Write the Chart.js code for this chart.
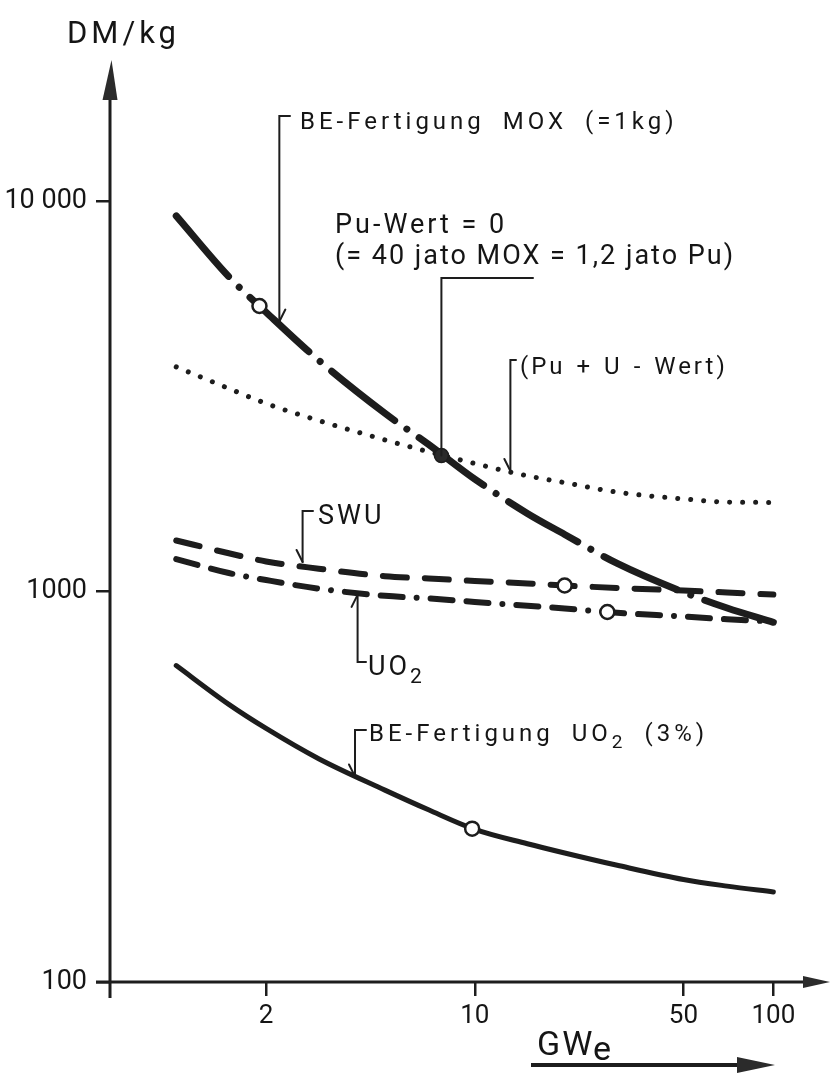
<!DOCTYPE html>
<html>
<head>
<meta charset="utf-8">
<script src="https://cdn.jsdelivr.net/npm/chart.js@4.4.1/dist/chart.umd.min.js"></script>
<style>
  html, body { margin: 0; padding: 0; background: #fff; }
  #wrap { width: 831px; height: 1080px; position: relative; }
</style>
</head>
<body>
<div id="wrap"><canvas id="c"></canvas></div>
<script>
// Installed capacity (GWe) at which every curve is sampled
const gwe = [1, 1.5, 2, 3, 5, 7, 10, 15, 20, 30, 50, 70, 100];
// Cost curves, DM/kg
const moxFabrication = [9160, 6400, 5190, 3910, 2860, 2380, 1940, 1585, 1400, 1180, 996, 907, 834];
const puUValue       = [3760, 3310, 3030, 2740, 2445, 2280, 2127, 1978, 1900, 1796, 1726, 1694, 1691];
const swuCost        = [1351, 1253, 1194, 1144, 1094, 1080, 1064, 1049, 1036, 1021, 1006, 994, 982];
const uo2Cost        = [1211, 1115, 1070, 1017, 975, 960, 940, 919, 905, 882, 863, 849, 838];
const uo2Fabrication = [646, 514, 446, 373, 310, 276, 246, 226, 214, 199, 183, 176, 170];

// Reference points marked on the curves
const openMarkX = [1.9, 20, 27.8, 9.8];
const openMarkY = [5385, 1036, 886, 247];
// Break-even point: Pu value = 0
const breakEvenX = [7.73];
const breakEvenY = [2230];

// Axis ticks
const xTicks = [2, 10, 50, 100];
const xTickLabels = ['2', '10', '50', '100'];
const yTicks = [100, 1000, 10000];
const yTickLabels = ['100', '1000', '10 000'];

const INK = '#1d1d1d';
const FONT = 'Roboto, "DejaVu Sans", sans-serif';

const pts = (xs, ys) => xs.map((x, i) => ({ x, y: ys[i] }));

function lineSet(values, width, dash) {
  return {
    type: 'line',
    data: pts(gwe, values),
    borderColor: INK,
    borderWidth: width,
    borderDash: dash,
    borderCapStyle: 'round',
    borderJoinStyle: 'round',
    cubicInterpolationMode: 'monotone',
    pointRadius: 0,
    fill: false,
    order: 1
  };
}

// Draws a run of text, where parts may be plain strings or {sub: '2'}
function richText(ctx, parts, x, y, size, spacing, wordSpacing) {
  let cx = x;
  for (const p of parts) {
    const isSub = typeof p === 'object';
    const s = isSub ? p.sub : p;
    const fs = isSub ? Math.round(size * 0.78) : size;
    ctx.font = `${fs}px ${FONT}`;
    ctx.letterSpacing = spacing + 'px';
    ctx.wordSpacing = (wordSpacing || 0) + 'px';
    ctx.fillText(s, cx, isSub ? y + size * 0.3 : y);
    cx += ctx.measureText(s).width;
  }
}

// Axis lines with arrowheads and the axis titles
const axesPlugin = {
  id: 'axes',
  beforeDatasetsDraw(chart) {
    const { ctx, chartArea: a } = chart;
    ctx.save();
    ctx.strokeStyle = INK;
    ctx.fillStyle = '#2b2b2b';
    ctx.lineWidth = 3;
    ctx.lineCap = 'butt';
    // y axis
    ctx.beginPath();
    ctx.moveTo(a.left, a.bottom + 16);
    ctx.lineTo(a.left, a.top);
    ctx.stroke();
    ctx.beginPath();
    ctx.moveTo(a.left - 7.5, a.top);
    ctx.lineTo(a.left + 1.5, a.top - 40);
    ctx.lineTo(a.left + 7.5, a.top);
    ctx.closePath();
    ctx.fill();
    // x axis
    ctx.beginPath();
    ctx.moveTo(a.left - 14, a.bottom);
    ctx.lineTo(a.right + 2, a.bottom);
    ctx.stroke();
    ctx.beginPath();
    ctx.moveTo(a.right, a.bottom - 6);
    ctx.lineTo(a.right + 27, a.bottom);
    ctx.lineTo(a.right, a.bottom + 6);
    ctx.closePath();
    ctx.fill();

    // titles
    ctx.fillStyle = '#151515';
    ctx.textBaseline = 'alphabetic';
    ctx.textAlign = 'left';
    richText(ctx, ['DM/kg'], 67, 43, 31, 4);
    richText(ctx, ['GW'], 537, 1055, 34, 2);
    richText(ctx, ['e'], 593, 1060, 34, 0);
    // GWe direction arrow
    ctx.fillStyle = '#2b2b2b';
    ctx.lineWidth = 4;
    ctx.beginPath();
    ctx.moveTo(531, 1065);
    ctx.lineTo(740, 1065);
    ctx.stroke();
    ctx.beginPath();
    ctx.moveTo(737, 1057);
    ctx.lineTo(775, 1065);
    ctx.lineTo(737, 1073);
    ctx.closePath();
    ctx.fill();
    ctx.restore();
  }
};

// Labelled leader lines pointing onto the curves
const callouts = [
  { at: [2.215, 4913], elbowY: 116, endX: 290, barb: 1,
    text: ['BE-Fertigung MOX (=1kg)'], tx: 300, ty: 129, size: 24, sp: 4, ws: 8 },
  { at: [13.16, 2035], elbowY: 360, endX: 516, barb: -1,
    text: ['(Pu + U - Wert)'], tx: 520, ty: 374, size: 24, sp: 3, ws: 2 },
  { at: [2.65, 1190], elbowY: 511, endX: 313, barb: -1,
    text: ['SWU'], tx: 318, ty: 524, size: 27, sp: 3, ws: 0 },
  { at: [4.05, 980], elbowY: 662, endX: 366, barb: -1,
    text: ['UO', { sub: '2' }], tx: 368, ty: 675, size: 27, sp: 3, ws: 0 },
  { at: [3.97, 336], elbowY: 730, endX: 366, barb: -1,
    text: ['BE-Fertigung UO', { sub: '2' }, ' (3%)'], tx: 369, ty: 741, size: 24, sp: 4, ws: 8 }
];

const calloutPlugin = {
  id: 'callouts',
  afterDatasetsDraw(chart) {
    const { ctx, scales: { x, y } } = chart;
    ctx.save();
    ctx.strokeStyle = INK;
    ctx.fillStyle = '#151515';
    ctx.lineWidth = 2;
    ctx.lineCap = 'round';
    ctx.textBaseline = 'alphabetic';
    for (const c of callouts) {
      const px = x.getPixelForValue(c.at[0]);
      const py = y.getPixelForValue(c.at[1]);
      ctx.beginPath();
      ctx.moveTo(px, py);
      ctx.lineTo(px, c.elbowY);
      ctx.lineTo(c.endX, c.elbowY);
      ctx.stroke();
      const dir = c.elbowY < py ? -1 : 1;
      ctx.beginPath();
      ctx.moveTo(px, py);
      ctx.lineTo(px + c.barb * 6, py + dir * 12);
      ctx.stroke();
      richText(ctx, c.text, c.tx, c.ty, c.size, c.sp, c.ws);
    }
    // Pu value = 0 note, tied to the break-even point
    const bx = x.getPixelForValue(breakEvenX[0]);
    const by = y.getPixelForValue(breakEvenY[0]);
    ctx.beginPath();
    ctx.moveTo(bx, by);
    ctx.lineTo(bx, 278);
    ctx.lineTo(533, 278);
    ctx.stroke();
    richText(ctx, ['Pu-Wert = 0'], 335, 233, 27, 3, 0);
    richText(ctx, ['(= 40 jato MOX = 1,2 jato Pu)'], 335, 264, 27, 2, 0);
    ctx.restore();
  }
};

new Chart(document.getElementById('c'), {
  data: {
    datasets: [
      {
        type: 'scatter',
        data: pts(breakEvenX, breakEvenY),
        pointRadius: 7, pointBackgroundColor: '#2a2a2a', pointBorderColor: INK, pointBorderWidth: 1.5,
        order: 0
      },
      {
        type: 'scatter',
        data: pts(openMarkX, openMarkY),
        pointRadius: 7, pointBackgroundColor: '#fff', pointBorderColor: INK, pointBorderWidth: 2.5,
        order: 0
      },
      lineSet(moxFabrication, 7, [80, 15, 0.01, 15]),
      lineSet(puUValue, 5, [0.01, 13]),
      lineSet(swuCost, 6, [24, 18]),
      lineSet(uo2Cost, 6, [22, 14, 22, 14, 0.01, 14]),
      lineSet(uo2Fabrication, 5, [])
    ]
  },
  options: {
    responsive: true,
    maintainAspectRatio: false,
    animation: false,
    devicePixelRatio: 1,
    layout: { padding: { top: 100, right: 28, left: 0, bottom: 0 } },
    plugins: { legend: { display: false }, tooltip: { enabled: false } },
    scales: {
      x: {
        type: 'logarithmic',
        min: 0.6375,
        max: 125.7,
        afterBuildTicks: s => { s.ticks = xTicks.map(v => ({ value: v })); },
        afterFit: s => { s.height = 98; },
        border: { display: false },
        grid: { drawOnChartArea: false, drawTicks: true, tickLength: 14, lineWidth: 2.5, color: INK },
        ticks: {
          autoSkip: false, maxRotation: 0, padding: 5, color: '#151515',
          font: { family: FONT, size: 26 },
          callback: v => xTickLabels[xTicks.indexOf(v)]
        }
      },
      y: {
        type: 'logarithmic',
        min: 100,
        max: 18140,
        afterBuildTicks: s => { s.ticks = yTicks.map(v => ({ value: v })); },
        afterFit: s => { s.width = 110; },
        border: { display: false },
        grid: { drawOnChartArea: false, drawTicks: true, tickLength: 14, lineWidth: 2.5, color: INK },
        ticks: {
          autoSkip: false, padding: 9, color: '#151515',
          font: { family: FONT, size: 27 },
          callback: v => yTickLabels[yTicks.indexOf(v)]
        }
      }
    }
  },
  plugins: [axesPlugin, calloutPlugin]
});
</script>
</body>
</html>
